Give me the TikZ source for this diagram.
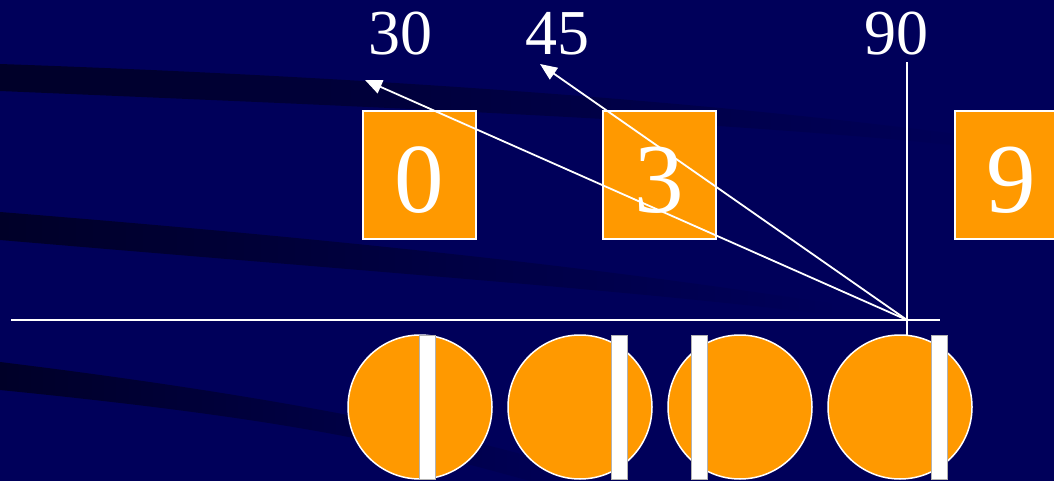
\documentclass[tikz,border=0pt]{standalone}
\usepackage{fontspec}
\setmainfont{Liberation Serif}
\usetikzlibrary{arrows.meta}

\definecolor{slidebg}{HTML}{00005A}
\definecolor{slidestripe}{HTML}{000028}
\definecolor{slideorange}{HTML}{FF9900}
\newcommand{\boxdigit}[1]{\raisebox{-3.5pt}[67pt][0pt]{#1}}

\begin{document}
\begin{tikzpicture}[x=1pt,y=-1pt]
\tikzset{
  digitbox/.style={rectangle,draw=white,line width=1.2pt,fill=slideorange,text=white,
    minimum width=113pt,minimum height=128pt,inner sep=0pt,font=\fontsize{99}{99}\selectfont},
  angle/.style={text=white,inner sep=0pt,anchor=base,font=\fontsize{64}{64}\selectfont},
  disk/.style={circle,draw=white,line width=1.5pt,fill=slideorange,minimum size=144pt,inner sep=0pt},
  slit/.style={rectangle,draw=gray!60,line width=0.6pt,fill=white,minimum width=16pt,minimum height=144pt,inner sep=0pt},
  ray/.style={draw=white,line width=1.8pt},
  arrowray/.style={ray,-{Triangle[length=17pt,width=14pt]}},
  stripe/.style={left color=slidestripe,middle color=slidestripe!60!slidebg,right color=slidebg}
}
\clip (0,0) rectangle (1054,481);
\fill[slidebg] (0,0) rectangle (1054,481);
% background stripes
\path[stripe] (0,64) .. controls (400,78) and (750,105) .. (1000,140)
  -- (1000,150) .. controls (750,122) and (400,108) .. (0,91) -- cycle;
\path[stripe] (0,212) .. controls (400,244) and (650,275) .. (840,305)
  -- (840,316) .. controls (650,292) and (400,274) .. (0,240) -- cycle;
\path[stripe] (0,362) .. controls (350,405) and (520,450) .. (610,481)
  -- (530,481) .. controls (400,445) and (300,420) .. (0,390) -- cycle;
% boxes
\node[digitbox] (n_b0) at (419.5,175) {\boxdigit{0}};
\node[digitbox] (n_b3) at (659.5,175) {\boxdigit{3}};
\node[digitbox] (n_b9) at (1011.5,175) {\boxdigit{9}};
% angle labels
\node[angle] (n_a30) at (400,55) {30};
\node[angle] (n_a45) at (557,55) {45};
\node[angle] (n_a90) at (896,55) {90};
% disks
\node[disk] (n_d1) at (420,407) {};
\node[disk] (n_d2) at (580,407) {};
\node[disk] (n_d3) at (740,407) {};
\node[disk] (n_d4) at (900,407) {};
\node[slit] (n_s1) at (427.5,407) {};
\node[slit] (n_s2) at (619.5,407) {};
\node[slit] (n_s3) at (699,407) {};
\node[slit] (n_s4) at (939.5,407) {};
% rays
\coordinate (pivot) at (907,320);
\coordinate (rayleft) at (11,320);
\coordinate (rayright) at (940,320);
\coordinate (tip30) at (365,80);
\coordinate (tip45) at (540,64);
\coordinate (tip90) at (907,62);
\coordinate (foot) at (907,335);
\draw[ray] (rayleft) -- (rayright);
\draw[ray] (foot) -- (tip90);
\draw[arrowray] (pivot) -- (tip30);
\draw[arrowray] (pivot) -- (tip45);
\end{tikzpicture}
\end{document}
